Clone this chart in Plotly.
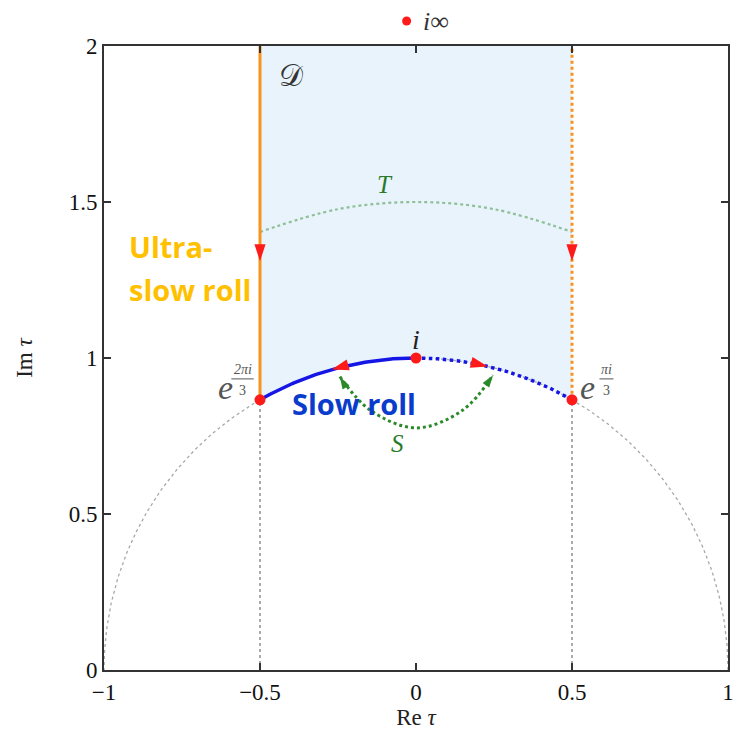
import numpy as np
import plotly.graph_objects as go

# ---- data ----
x_ticks = [-1, -0.5, 0, 0.5, 1]
x_tick_labels = ["−1", "−0.5", "0", "0.5", "1"]
y_ticks = [0, 0.5, 1, 1.5, 2]
y_tick_labels = ["0", "0.5", "1", "1.5", "2"]

special_x = [-0.5, 0.0, 0.5]          # e^{2πi/3}, i, e^{πi/3}
special_y = [0.866, 1.0, 0.866]
inf_x = [-0.03]                        # the point i∞ drawn above the frame
inf_y = [2.08]

# T map curve
T_x = [-0.5, -0.25, 0.0, 0.25, 0.5]
T_y = [1.404, 1.477, 1.50, 1.477, 1.404]
# S map curve
S_x = [-0.244, -0.147, 0.0, 0.15, 0.247]
S_y = [0.94, 0.833, 0.776, 0.833, 0.945]

# arrowheads on the boundary
arrow_v_x = [-0.5, 0.5]
arrow_v_y = [1.31, 1.31]
arrow_arc_x = [-0.27, 0.23]
arrow_arc_y = [0.963, 0.973]
arrow_arc_angle = [-16, 14]

# unit circle |tau| = 1 (geometry)
th_full = np.linspace(0, np.pi, 300)
circ_x = np.cos(th_full)
circ_y = np.sin(th_full)
th_l = np.linspace(np.pi / 2, 2 * np.pi / 3, 100)
th_r = np.linspace(np.pi / 3, np.pi / 2, 100)
th_fd = np.linspace(np.pi / 3, 2 * np.pi / 3, 200)

ORANGE = "#f7941d"
BLUE = "#1515e6"
RED = "#ff1a1a"
GREY = "#a8a8a8"
GREEN_D = "#2a8a2a"
GREEN_L = "#8fbf98"

fig = go.Figure()

# fundamental domain fill
fd_x = list(np.cos(th_fd)) + [-0.5, 0.5, 0.5]
fd_y = list(np.sin(th_fd)) + [2.0, 2.0, float(np.sin(np.pi / 3))]
fig.add_trace(go.Scatter(x=fd_x, y=fd_y, fill="toself", fillcolor="#e8f3fc",
                         line=dict(width=0), mode="lines", hoverinfo="skip"))

# dashed grey unit circle
fig.add_trace(go.Scatter(x=circ_x, y=circ_y, mode="lines",
                         line=dict(color=GREY, width=1.3, dash="3px,3px")))
# dashed grey verticals below corners
for xv, yv in [(special_x[0], special_y[0]), (special_x[2], special_y[2])]:
    fig.add_trace(go.Scatter(x=[xv, xv], y=[0, yv], mode="lines",
                             line=dict(color="#666666", width=1.1, dash="3px,3px")))

# T curve
fig.add_trace(go.Scatter(x=T_x, y=T_y, mode="lines",
                         line=dict(color=GREEN_L, width=2.2, dash="dot", shape="spline")))
# S curve
fig.add_trace(go.Scatter(x=S_x, y=S_y, mode="lines",
                         line=dict(color=GREEN_D, width=3, dash="dot", shape="spline")))
fig.add_trace(go.Scatter(x=[S_x[0], S_x[-1]], y=[S_y[0], S_y[-1]], mode="markers",
                         marker=dict(symbol="arrow", size=13, color=GREEN_D,
                                     angle=[-30, 35], line=dict(width=0))))

# orange vertical boundaries
fig.add_trace(go.Scatter(x=[-0.5, -0.5], y=[special_y[0], 2.0], mode="lines",
                         line=dict(color=ORANGE, width=3)))
fig.add_trace(go.Scatter(x=[0.5, 0.5], y=[special_y[2], 2.0], mode="lines",
                         line=dict(color=ORANGE, width=3, dash="dot")))

# blue arc
fig.add_trace(go.Scatter(x=np.cos(th_l), y=np.sin(th_l), mode="lines",
                         line=dict(color=BLUE, width=3.5)))
fig.add_trace(go.Scatter(x=np.cos(th_r), y=np.sin(th_r), mode="lines",
                         line=dict(color=BLUE, width=3.5, dash="dot")))

# red arrowheads
fig.add_trace(go.Scatter(x=arrow_v_x, y=arrow_v_y, mode="markers",
                         marker=dict(symbol="arrow", size=18, color=RED, angle=180,
                                     line=dict(width=0))))
fig.add_trace(go.Scatter(x=arrow_arc_x, y=arrow_arc_y, mode="markers",
                         marker=dict(symbol="arrow", size=18, color=RED,
                                     angle=[270 + arrow_arc_angle[0], 90 + arrow_arc_angle[1]],
                                     line=dict(width=0))))

# red special points
fig.add_trace(go.Scatter(x=special_x, y=special_y, mode="markers",
                         marker=dict(color=RED, size=11, line=dict(width=0))))

SERIF = "Liberation Serif"
ann = []
def A(x, y, text, size=22, color="#222222", family=SERIF, yref="y", **kw):
    kw.setdefault("yanchor", "middle")
    kw.setdefault("xanchor", "center")
    ann.append(dict(x=x, y=y, xref="x", yref=yref, text=text, showarrow=False,
                    font=dict(family=family, size=size, color=color), **kw))

# i∞ above the frame (paper y = data y / 2 since range is [0, 2])
A(inf_x[0] + 0.045, inf_y[0] / 2, "<i>i</i>∞", size=26, color="#333333",
  yref="paper", xanchor="left")
A(-0.40, 1.905, "𝒟", size=30, color="#333333")
A(0.0, 1.06, "<i>i</i>", size=28)
A(-0.10, 1.555, "<i>T</i>", size=25, color="#2a7a2a")
A(-0.058, 0.725, "<i>S</i>", size=25, color="#2a7a2a")
# e^{2πi/3}
A(-0.612, 0.904, "<i>e</i>", size=34, color="#555555")
A(-0.556, 0.962, "<i>2πi</i>", size=14, color="#555555")
A(-0.556, 0.897, "3", size=14, color="#555555")
# e^{πi/3}
A(0.551, 0.904, "<i>e</i>", size=34, color="#555555")
A(0.61, 0.962, "<i>πi</i>", size=14, color="#555555")
A(0.61, 0.897, "3", size=14, color="#555555")

BOLD = "Open Sans"
A(-0.926, 1.356, "<b>Ultra-</b>", size=29, color="#ffc000", family=BOLD, xanchor="left")
A(-0.926, 1.221, "<b>slow roll</b>", size=29, color="#ffc000", family=BOLD, xanchor="left")
A(-0.404, 0.853, "<b>Slow roll</b>", size=29, color="#0a3ccc", family=BOLD, xanchor="left")

shapes = [
    dict(type="line", xref="x", yref="y", x0=-0.592, x1=-0.52, y0=0.933, y1=0.933,
         line=dict(color="#555555", width=1)),
    dict(type="line", xref="x", yref="y", x0=0.588, x1=0.633, y0=0.933, y1=0.933,
         line=dict(color="#555555", width=1)),
    dict(type="circle", xref="x", yref="paper", xsizemode="pixel", ysizemode="pixel",
         xanchor=inf_x[0], yanchor=inf_y[0] / 2, x0=-4.5, x1=4.5, y0=-4.5, y1=4.5,
         fillcolor=RED, line=dict(width=0)),
]

axis_common = dict(showgrid=False, zeroline=False, showline=True, linecolor="#333333",
                   linewidth=2, mirror="ticks", ticks="inside", ticklen=7, tickwidth=1.5,
                   tickcolor="#333333", automargin=False,
                   tickfont=dict(family=SERIF, size=23, color="#111111"))

fig.update_layout(
    width=738, height=743,
    margin=dict(l=104, r=10, t=46, b=73),
    plot_bgcolor="white", paper_bgcolor="white",
    showlegend=False,
    annotations=ann, shapes=shapes,
    xaxis=dict(range=[-1, 1], tickvals=x_ticks, ticktext=x_tick_labels,
               title=dict(text="Re <i>τ</i>", font=dict(family=SERIF, size=23, color="#222222"),
                          standoff=4),
               **axis_common),
    yaxis=dict(range=[0, 2], tickvals=y_ticks, ticktext=y_tick_labels,
               title=dict(text="Im <i>τ</i>", font=dict(family=SERIF, size=23, color="#222222"),
                          standoff=30),
               **axis_common),
)

fig.write_html("out.html", config={"displayModeBar": False},
               post_script="document.body.style.margin='0';document.body.style.overflow='hidden';")
